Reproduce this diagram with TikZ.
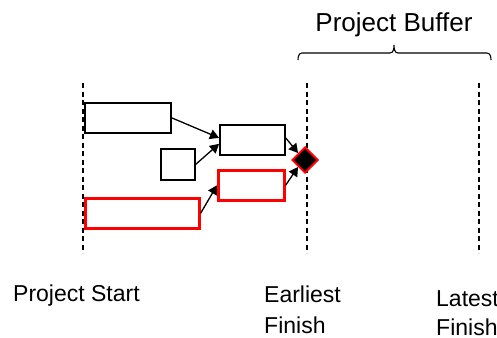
\documentclass[tikz,border=0pt]{standalone}
\usepackage{fontspec}
\setmainfont{Liberation Sans}
\usetikzlibrary{arrows.meta,shapes.geometric,positioning}

\begin{document}
\begin{tikzpicture}[x=1pt,y=-1pt,
		task/.style={draw, line width=1.7pt, inner sep=0pt, anchor=north west, minimum height=30pt},
		crit/.style={task, draw=red, line width=2.6pt},
		link/.style={-{Triangle[length=9pt,width=10pt]}, line width=1.3pt},
		timetext/.style={inner sep=0pt, anchor=north west, align=left, font=\fontsize{23}{30}\selectfont}]
		\useasboundingbox (0,0) rectangle (497,337);
		\clip (0,0) rectangle (497,337);

		% time markers
		\foreach \x in {83,307,479} {
				\draw[line width=1.4pt, dash pattern=on 5pt off 3.5pt] (\x,83) -- (\x,253);
			}

		% tasks
		\node[task, minimum width=86pt] (a) at (84,102) {};
		\node[task, minimum width=34pt, minimum height=31pt] (b) at (160,148) {};
		\node[task, minimum width=65pt] (c) at (219,124) {};
		\node[crit, minimum width=114pt] (d) at (84,197) {};
		\node[crit, minimum width=66pt] (e) at (217,169) {};
		\node[diamond, draw=red, fill=black, line width=2pt, inner sep=0pt,
			minimum width=26pt, minimum height=26pt] (fin) at (305,160) {};

		\draw[link] (a.east) -- ([yshift=2pt]c.west);
		\draw[link] (b.east) -- ([yshift=-4pt]c.west);
		\draw[link] ([yshift=2pt]c.east) -- (fin.north west);
		\draw[link] (e.east) -- (fin.south west);
		\draw[link] (d.east) -- (e.west);

		% buffer
		\draw[line width=1.1pt] (298,60) to[out=90,in=180] (302,53) -- (390,53)
		to[out=0,in=-90] (394,45) to[out=-90,in=180] (398,53) -- (487,53)
		to[out=0,in=90] (491,60);
		\node[inner sep=0pt, anchor=base, font=\fontsize{26}{30}\selectfont] (buf) at (394,31.5) {Project Buffer};

		\node[timetext] (start) at (13,285) {Project Start};
		\node[timetext, font=\fontsize{23}{31}\selectfont] (early) at (264,286) {Earliest\\Finish};
		\node[timetext, font=\fontsize{23}{29}\selectfont] (late) at (436,290) {Latest\\Finish};
	\end{tikzpicture}
\end{document}
